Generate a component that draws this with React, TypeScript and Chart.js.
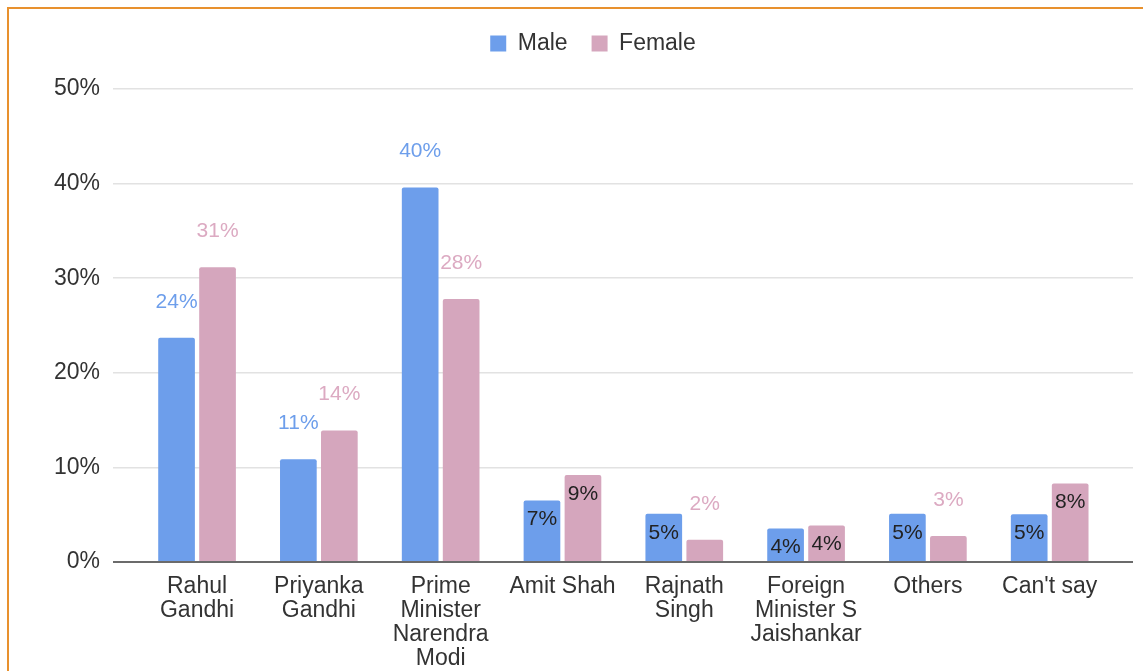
import React, { useEffect, useRef } from "react";
import { Chart, registerables } from "chart.js";

Chart.register(...registerables);

const categories: string[][] = [
  ["Rahul", "Gandhi"],
  ["Priyanka", "Gandhi"],
  ["Prime", "Minister", "Narendra", "Modi"],
  ["Amit Shah"],
  ["Rajnath", "Singh"],
  ["Foreign", "Minister S", "Jaishankar"],
  ["Others"],
  ["Can't say"],
];

const maleValues = [23.7, 10.85, 39.6, 6.5, 5.1, 3.55, 5.1, 5.05];
const femaleValues = [31.15, 13.9, 27.8, 9.2, 2.35, 3.85, 2.75, 8.3];

const yTicks = [0, 10, 20, 30, 40, 50];

const MALE_COLOR = "#6d9eeb";
const FEMALE_COLOR = "#d5a6bd";
const FONT = "'Liberation Sans', Arial, Helvetica, sans-serif";

const labelPlugin = {
  id: "valueLabels",
  afterDatasetsDraw(chart: any) {
    const ctx = chart.ctx;
    ctx.save();
    ctx.font = `21px ${FONT}`;
    ctx.textAlign = "center";
    ctx.textBaseline = "middle";
    chart.data.datasets.forEach((ds: any, di: number) => {
      const meta = chart.getDatasetMeta(di);
      meta.data.forEach((bar: any, i: number) => {
        const v = ds.data[i].y;
        const text = Math.round(v) + "%";
        const inside = v >= 3 && v < 10;
        if (inside) {
          ctx.fillStyle = "#222222";
          ctx.fillText(text, bar.x, bar.y + 19);
        } else {
          ctx.fillStyle = ds.labelColor;
          ctx.fillText(text, bar.x, bar.y - 36);
        }
      });
    });
    ctx.restore();
  },
};

export default function App() {
  const ref = useRef<HTMLCanvasElement>(null);

  useEffect(() => {
    if (!ref.current) return;
    const chart = new Chart(ref.current, {
      type: "bar",
      data: {
        datasets: [
          {
            label: "Male",
            data: maleValues.map((v, i) => ({ x: i, y: v })),
            backgroundColor: MALE_COLOR,
            borderRadius: 2,
            labelColor: MALE_COLOR,
          } as any,
          {
            label: "Female",
            data: femaleValues.map((v, i) => ({ x: i, y: v })),
            backgroundColor: FEMALE_COLOR,
            borderRadius: 2,
            labelColor: "#dcaac2",
          } as any,
        ],
      },
      options: {
        responsive: false,
        animation: false,
        categoryPercentage: 0.673,
        barPercentage: 0.895,
        layout: { padding: { left: 53, right: 10, top: 8, bottom: 0 } },
        plugins: {
          legend: {
            position: "top",
            labels: {
              boxWidth: 16,
              boxHeight: 16,
              padding: 24,
              color: "#333333",
              font: { family: FONT, size: 23 },
            },
          },
          title: {
            display: true,
            text: "",
            weight: 100,
            padding: 0,
            font: { size: 24, lineHeight: 1 },
          } as any,
          tooltip: { enabled: false },
        },
        scales: {
          x: {
            type: "linear",
            offset: false,
            min: -0.69,
            max: 7.684,
            grid: { display: false },
            border: { display: false },
            ticks: {
              stepSize: 1,
              includeBounds: false,
              autoSkip: false,
              maxRotation: 0,
              minRotation: 0,
              padding: 5,
              color: "#333333",
              font: { family: FONT, size: 23, lineHeight: 24 / 23 },
              callback: (v: any) =>
                Number.isInteger(v) && categories[v] ? categories[v] : "",
            },
            afterFit: (scale: any) => {
              scale.height = 109;
            },
          },
          y: {
            min: 0,
            max: 50,
            afterBuildTicks: (scale: any) => {
              scale.ticks = yTicks.map((value) => ({ value }));
            },
            grid: {
              drawTicks: false,
              color: (c: any) => (c.tick && c.tick.value === 0 ? "#6b6b6b" : "#e2e2e2"),
              lineWidth: (c: any) => (c.tick && c.tick.value === 0 ? 2 : 1.5),
            },
            border: { display: false },
            ticks: {
              padding: 13,
              color: "#333333",
              font: { family: FONT, size: 23 },
              callback: (v: any) => v + "%",
            },
            afterFit: (scale: any) => {
              scale.width = 60;
            },
          },
        },
      } as any,
      plugins: [labelPlugin],
    });
    return () => chart.destroy();
  }, []);

  return (
    <div
      style={{
        position: "fixed",
        left: 0,
        top: 0,
        width: 1143,
        height: 671,
        overflow: "hidden",
        background: "#ffffff",
      }}
    >
      <canvas
        ref={ref}
        width={1143}
        height={671}
        style={{ position: "absolute", left: 0, top: 0, width: 1143, height: 671 }}
      />
      <div
        style={{
          position: "absolute",
          left: 7,
          top: 7,
          width: 1200,
          height: 1200,
          border: "2px solid #e8912e",
          pointerEvents: "none",
        }}
      />
    </div>
  );
}
